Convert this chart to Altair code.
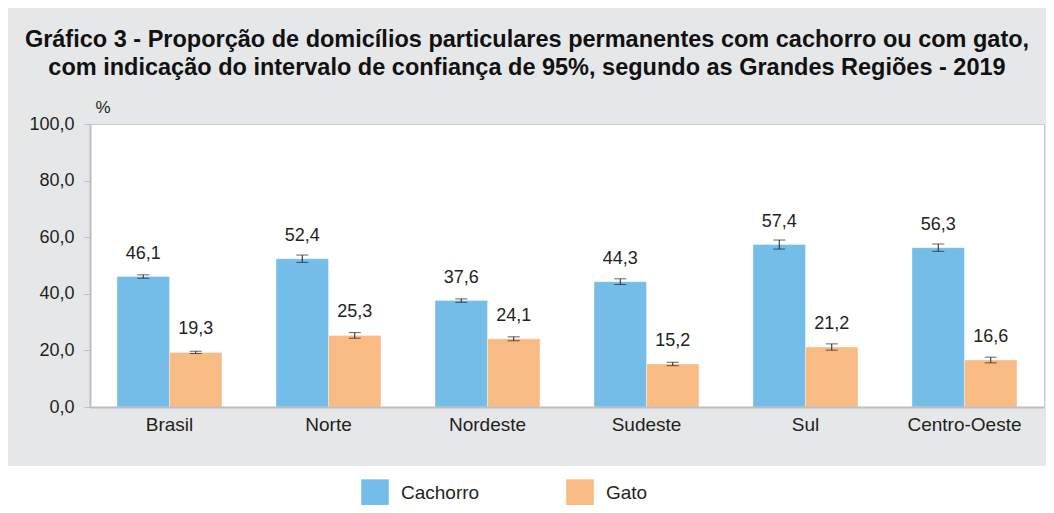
import altair as alt
import pandas as pd

regioes = ["Brasil", "Norte", "Nordeste", "Sudeste", "Sul", "Centro-Oeste"]
series = ["Cachorro", "Gato"]
cachorro = [46.1, 52.4, 37.6, 44.3, 57.4, 56.3]
gato = [19.3, 25.3, 24.1, 15.2, 21.2, 16.6]
ic_cachorro = [0.6, 1.3, 0.6, 1.0, 1.6, 1.3]
ic_gato = [0.4, 1.0, 0.7, 0.6, 1.1, 1.0]
y_ticks = [0, 20, 40, 60, 80, 100]
cores = ["#74BDE8", "#F9BB84"]

titulo = [
    "Gráfico 3 - Proporção de domicílios particulares permanentes com cachorro ou com gato,",
    "com indicação do intervalo de confiança de 95%, segundo as Grandes Regiões - 2019",
]

rows = []
for i, r in enumerate(regioes):
    rows.append(dict(regiao=r, serie="Cachorro", valor=cachorro[i], ic=ic_cachorro[i]))
    rows.append(dict(regiao=r, serie="Gato", valor=gato[i], ic=ic_gato[i]))
df = pd.DataFrame(rows)
df["lo"] = df["valor"] - df["ic"]
df["hi"] = df["valor"] + df["ic"]

FONT = "Liberation Sans"
TXT = "#231F20"
W, H = 954, 283

base = alt.Chart(df).transform_calculate(
    rotulo="replace(format(datum.valor, '.1f'), '.', ',')"
)

x_enc = alt.X(
    "regiao:N",
    sort=regioes,
    scale=alt.Scale(paddingInner=0.34, paddingOuter=0.17),
    axis=alt.Axis(
        title=None, labelAngle=0, ticks=False, labelPadding=8,
        labelFontSize=19, labelColor=TXT, labelFont=FONT,
        domainColor="#BDBEC0", domainWidth=2, zindex=1,
    ),
)
xo_enc = alt.XOffset("serie:N", sort=series, scale=alt.Scale(paddingInner=0))

y_axis = alt.Axis(
    values=y_ticks,
    labelExpr="replace(format(datum.value, '.1f'), '.', ',')",
    title="%", titleAngle=0, titleX=5, titleY=-8, titleAlign="left",
    titleFontSize=17, titleFontWeight="normal", titleColor=TXT, titleFont=FONT,
    grid=False, tickSize=6, tickColor="#BDBEC0", domainColor="#BDBEC0", domainWidth=2,
    labelFontSize=18, labelColor=TXT, labelFont=FONT, labelPadding=10, zindex=1,
)

faixa = alt.Chart(pd.DataFrame({"k": [0]})).mark_rect(color="white").encode(
    x=alt.value(-90), x2=alt.value(W + 20), y=alt.value(342), y2=alt.value(420)
)

barras = base.mark_bar(stroke="white", strokeOpacity=0.35, strokeWidth=1).encode(
    x=x_enc,
    xOffset=xo_enc,
    y=alt.Y("valor:Q", scale=alt.Scale(domain=[0, 100]), axis=y_axis),
    color=alt.Color(
        "serie:N",
        sort=series,
        scale=alt.Scale(domain=series, range=cores),
        legend=alt.Legend(
            title=None, orient="none", legendX=271, legendY=355,
            direction="horizontal", symbolType="square", symbolSize=760,
            symbolStrokeWidth=0, labelFontSize=19, labelFont=FONT,
            labelColor=TXT, labelOffset=12, columnPadding=86, zindex=1,
        ),
    ),
)

regra = base.mark_rule(color=TXT, strokeWidth=1).encode(
    x=alt.X("regiao:N", sort=regioes), xOffset=xo_enc,
    y="lo:Q", y2="hi:Q",
)
cap_lo = base.mark_tick(color=TXT, size=12, thickness=1).encode(
    x=alt.X("regiao:N", sort=regioes), xOffset=xo_enc, y="lo:Q"
)
cap_hi = base.mark_tick(color=TXT, size=12, thickness=1).encode(
    x=alt.X("regiao:N", sort=regioes), xOffset=xo_enc, y="hi:Q"
)
textos = base.mark_text(dy=-23, fontSize=18, font=FONT, color=TXT).encode(
    x=alt.X("regiao:N", sort=regioes), xOffset=xo_enc, y="valor:Q",
    text="rotulo:N",
)

chart = alt.layer(faixa, barras, regra, cap_lo, cap_hi, textos).properties(
    width=W,
    height=H,
    padding={"left": 82, "top": 116, "right": 2, "bottom": 98},
    autosize=alt.AutoSizeParams(type="none"),
    background="#E6E7E9",
    title=alt.TitleParams(
        text=titulo, fontSize=23.5, fontWeight="bold", font=FONT, color="#111111",
        anchor="middle", dx=-40, offset=19, lineHeight=28,
    ),
).configure_view(fill="white", stroke="#C9CACC", strokeWidth=1)

chart.save("out.html", embed_options={"renderer": "svg", "actions": False})
